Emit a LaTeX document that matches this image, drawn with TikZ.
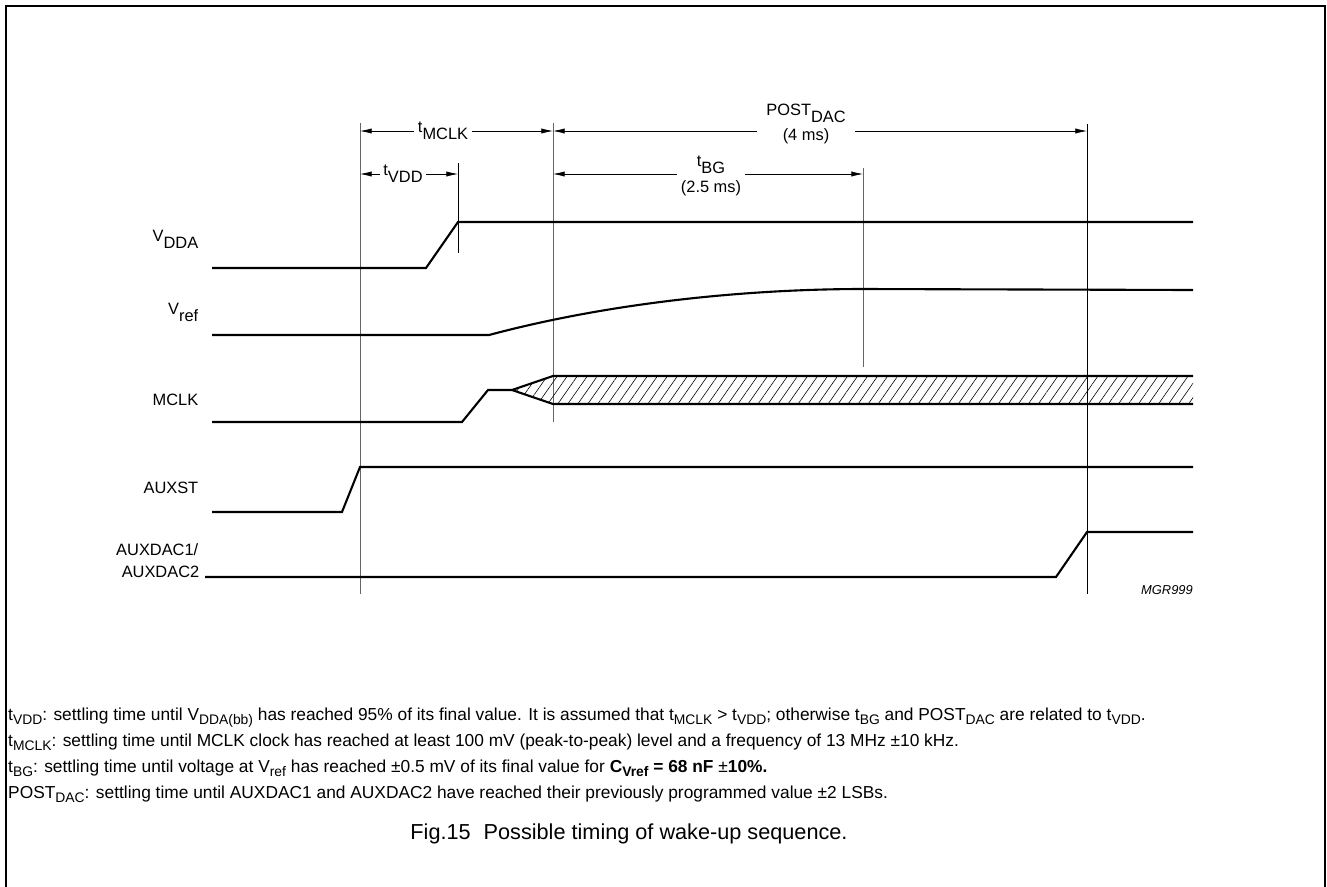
\documentclass[tikz,border=0pt]{standalone}
\usepackage{fontspec}
\setmainfont{Liberation Sans}
\usetikzlibrary{arrows.meta, patterns.meta}

\newcommand{\dn}[1]{\raisebox{-0.43em}{#1}}
\newcommand{\fsub}[1]{\raisebox{-0.28em}{\scalebox{0.8}{#1}}}

\tikzset{
	sig/.style={line width=1.8pt, line join=miter},
	guide/.style={line width=0.6pt, black!60},
	guidedark/.style={line width=0.6pt, black},
	dim/.style={line width=0.6pt, -{Latex[length=10pt, width=4.5pt]}},
	lbl/.style={font=\fontsize{14}{17}\selectfont, inner sep=3pt},
	note/.style={font=\fontsize{14.8}{17}\selectfont, anchor=base west, inner sep=0pt},
}

\begin{document}
\begin{tikzpicture}[x=0.03cm, y=-0.03cm]
			\useasboundingbox (0,0) rectangle (1327,886);
			% Frame
			\draw[line width=1.6pt] (6,900) -- (6,6) -- (1325,6) -- (1325,900);
			% Time marks
			\coordinate (tA) at (360,0);
			\coordinate (tB) at (458,0);
			\coordinate (tC) at (553,0);
			\coordinate (tD) at (863,0);
			\coordinate (tE) at (1087,0);
			\coordinate (rowA) at (0,131);
			\coordinate (rowB) at (0,174);
			% Vertical guide lines
			\draw[guide] (tA |- 0,123) -- (tA |- 0,594);
			\draw[guidedark] (tB |- 0,163) -- (tB |- 0,253);
			\draw[guide] (tC |- 0,123) -- (tC |- 0,422);
			\draw[guide] (tD |- 0,168) -- (tD |- 0,367);
			\draw[guidedark] (tE |- 0,124) -- (tE |- 0,594);
			% Interval labels
			\node[lbl] (lMCLK) at (443,131) {t\dn{MCLK}};
			\node[lbl] (lVDD) at (403,174) {t\dn{VDD}};
			\node[lbl, align=center, inner xsep=8pt] (lPOST) at (806,124) {POST\dn{DAC}\\[5pt](4 ms)};
			\node[lbl, align=center] (lBG) at (711,176) {t\dn{BG}\\[5pt](2.5 ms)};
			% Interval arrows
			\draw[dim] (lMCLK.west) -- (tA |- lMCLK.west);
			\draw[dim] (lMCLK.east) -- (tC |- lMCLK.east);
			\draw[dim] (lVDD.west) -- (tA |- lVDD.west);
			\draw[dim] (lVDD.east) -- (tB |- lVDD.east);
			\draw[dim] (lPOST.west |- rowA) -- (tC |- rowA);
			\draw[dim] (lPOST.east |- rowA) -- (tE |- rowA);
			\draw[dim] (lBG.west |- rowB) -- (tC |- rowB);
			\draw[dim] (lBG.east |- rowB) -- (tD |- rowB);
			% Signal names
			\node[lbl, anchor=base east] (nVDDA) at (202,241) {V\dn{DDA}};
			\node[lbl, anchor=base east] (nVref) at (202,314) {V\dn{ref}};
			\node[lbl, anchor=base east] (nMCLK) at (202,405) {MCLK};
			\node[lbl, anchor=base east] (nAUXST) at (202,493) {AUXST};
			\node[lbl, anchor=base east] (nDAC1) at (202,555) {AUXDAC1/};
			\node[lbl, anchor=base east] (nDAC2) at (203,577) {AUXDAC2};
			% Waveforms
			\draw[sig] (212,268) -- (426,268) -- (458,222) -- (1193,222);
			\draw[sig] (212,335) -- (489,335) .. controls (620,300) and (760,289) .. (863,289) -- (1193,290);
			\fill[pattern={Lines[angle=55, distance=7pt, line width=0.5pt]}] (512,390) -- (553,376) -- (1193,376) -- (1193,404) -- (553,404) -- cycle;
			\draw[sig] (212,422) -- (462,422) -- (488,390) -- (512,390) -- (553,376) -- (1193,376);
			\draw[sig] (512,390) -- (553,404) -- (1193,404);
			\draw[sig] (212,512) -- (342,512) -- (360,467) -- (1193,467);
			\draw[sig] (205,577) -- (1056,577) -- (1087,532) -- (1193,532);
			% Drawing number
			\node[font=\fontsize{11}{13}\selectfont\itshape, anchor=base east, inner sep=0pt] (mgr) at (1193,594) {MGR999};
			% Notes
			\node[note] (noteVDD) at (8,720) {t\fsub{VDD}: settling time until V\fsub{DDA(bb)} has reached 95\% of its final value. It is assumed that t\fsub{MCLK} > t\fsub{VDD}; otherwise t\fsub{BG} and POST\fsub{DAC} are related to t\fsub{VDD}.};
			\node[note] (noteMCLK) at (8,746) {t\fsub{MCLK}: settling time until MCLK clock has reached at least 100 mV (peak-to-peak) level and a frequency of 13 MHz ±10 kHz.};
			\node[note] (noteBG) at (8,772) {t\fsub{BG}: settling time until voltage at V\fsub{ref} has reached ±0.5 mV of its final value for \textbf{C\fsub{Vref} = 68 nF} ±\textbf{10\%.}};
			\node[note] (notePOST) at (8,798) {POST\fsub{DAC}: settling time until AUXDAC1 and AUXDAC2 have reached their previously programmed value ±2 LSBs.};
			% Caption
			\node[font=\fontsize{18.5}{22}\selectfont] (caption) at (629,834) {Fig.15\hspace{0.6em}Possible timing of wake-up sequence.};
		\end{tikzpicture}
\end{document}
